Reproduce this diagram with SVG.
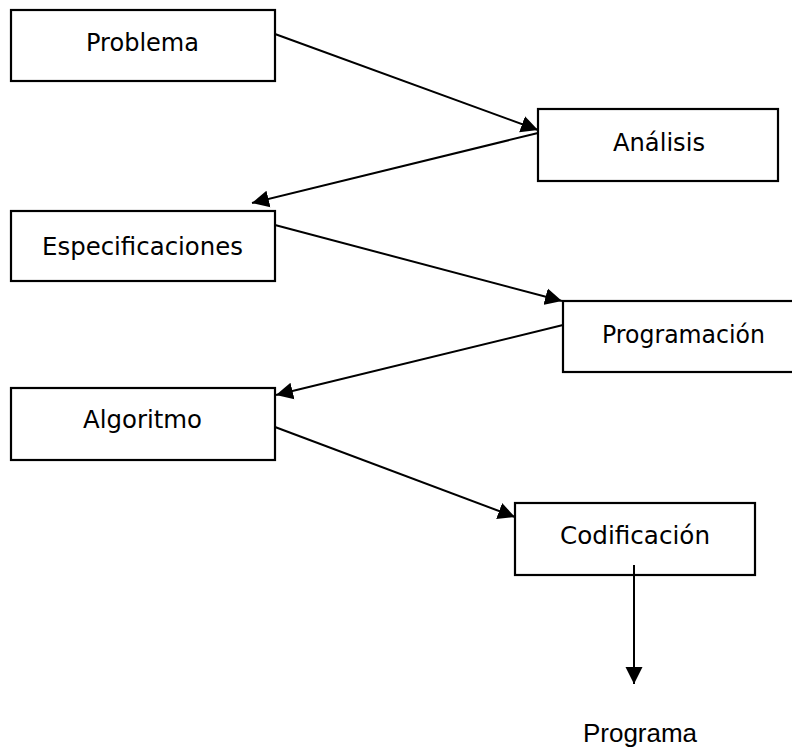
<svg xmlns="http://www.w3.org/2000/svg" width="792" height="747" viewBox="0 0 792 747">
<style>
.box{fill:#fff;stroke:#000;stroke-width:2.2}
.lbl{font-family:"DejaVu Sans","Liberation Sans",sans-serif;font-size:25px;fill:#000}
.out{font-family:"Liberation Sans",Arial,sans-serif;font-size:26px;fill:#000}
.conn{stroke:#000;stroke-width:2;fill:none;marker-end:url(#ah)}
</style>
<defs>
<marker id="ah" markerUnits="userSpaceOnUse" markerWidth="18" markerHeight="18" viewBox="0 0 17 17" refX="16" refY="8.5" orient="auto">
<path d="M0,0.5 L16,8.5 L0,16.5 Z" fill="#000"/>
</marker>
</defs>
<rect width="792" height="747" fill="#fff"/>
<g id="connectors">
<line class="conn" x1="275" y1="34" x2="538" y2="130"/>
<line class="conn" x1="538" y1="133" x2="252" y2="203"/>
<line class="conn" x1="275" y1="225" x2="562" y2="301"/>
<line class="conn" x1="563" y1="325" x2="276" y2="395"/>
<line class="conn" x1="275" y1="427" x2="515" y2="517"/>
<line class="conn" x1="634" y1="565" x2="634" y2="684"/>
</g>
<g id="problema"><rect class="box" x="11" y="10" width="264" height="71"/><text class="lbl" x="86" y="51" textLength="113" lengthAdjust="spacingAndGlyphs">Problema</text></g>
<g id="analisis"><rect class="box" x="538" y="109" width="240" height="72"/><text class="lbl" x="613" y="151" textLength="92" lengthAdjust="spacingAndGlyphs">Análisis</text></g>
<g id="especificaciones"><rect class="box" x="11" y="211" width="264" height="70"/><text class="lbl" x="42" y="255" textLength="201" lengthAdjust="spacingAndGlyphs">Especificaciones</text></g>
<g id="programacion"><rect class="box" x="563" y="301" width="240" height="71"/><text class="lbl" x="602" y="343" textLength="163" lengthAdjust="spacingAndGlyphs">Programación</text></g>
<g id="algoritmo"><rect class="box" x="11" y="388" width="264" height="72"/><text class="lbl" x="83" y="428" textLength="119" lengthAdjust="spacingAndGlyphs">Algoritmo</text></g>
<g id="codificacion"><rect class="box" x="515" y="503" width="240" height="72"/><text class="lbl" x="560" y="544" textLength="150" lengthAdjust="spacingAndGlyphs">Codificación</text></g>
<line x1="634" y1="565" x2="634" y2="575" stroke="#000" stroke-width="2"/>
<g id="programa"><text class="out" x="640" y="742" text-anchor="middle">Programa</text></g>
</svg>
